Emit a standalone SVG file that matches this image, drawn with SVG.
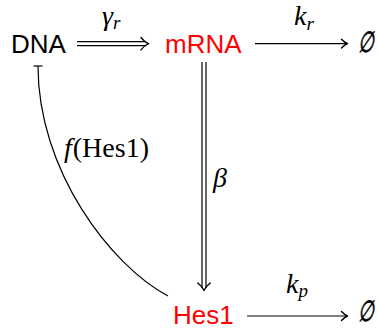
<svg xmlns="http://www.w3.org/2000/svg" width="378" height="328" viewBox="0 0 378 328">
<style>
.node{font-family:"Liberation Sans",Arial,sans-serif;font-size:26px;fill:#000}
.red{fill:#ff0000}
.math{font-family:"Liberation Serif","Times New Roman",serif;font-size:28px;fill:#000}
.it{font-style:italic}
.sub{font-size:19px;font-style:italic}
.edge{stroke:#000;stroke-width:1.2;fill:none}
.head{stroke:#000;stroke-width:1.4;fill:none;stroke-linecap:round;stroke-linejoin:round}
.empty{font-family:"DejaVu Sans",sans-serif;font-size:29px;fill:#000;stroke:#000;stroke-width:0.7}
</style>
<g id="connectors">
  <g id="e-dna-mrna">
    <line class="edge" x1="77" y1="41.7" x2="146" y2="41.7"/>
    <line class="edge" x1="77" y1="45.7" x2="146" y2="45.7"/>
    <path class="head" d="M141,37.5 Q144.5,42 148.5,43.7 Q144.5,45.4 141,49.9"/>
    <text class="math" x="102" y="25"><tspan class="it">γ</tspan><tspan class="sub" dy="4">r</tspan></text>
  </g>
  <g id="e-mrna-deg">
    <line class="edge" x1="255" y1="43.7" x2="347" y2="43.7"/>
    <path class="head" d="M341.5,39.3 Q344.5,42.5 347.5,43.7 Q344.5,44.9 341.5,48.1"/>
    <text class="math" x="294" y="25"><tspan class="it">k</tspan><tspan class="sub" dy="5">r</tspan></text>
  </g>
  <g id="e-mrna-hes1">
    <line class="edge" x1="202" y1="62" x2="202" y2="288"/>
    <line class="edge" x1="206" y1="62" x2="206" y2="288"/>
    <path class="head" d="M197.8,283 Q202.3,286.5 204,290.5 Q205.7,286.5 210.2,283"/>
    <text class="math it" x="213" y="187">β</text>
  </g>
  <g id="e-hes1-deg">
    <line class="edge" x1="247" y1="316" x2="347" y2="316"/>
    <path class="head" d="M341.5,311.6 Q344.5,314.8 347.5,316 Q344.5,317.2 341.5,320.4"/>
    <text class="math" x="286" y="293"><tspan class="it">k</tspan><tspan class="sub" dy="4">p</tspan></text>
  </g>
  <g id="e-hes1-dna">
    <path class="edge" d="M168,296 C110,265 38,170 38,66"/>
    <line class="edge" x1="33.5" y1="66" x2="42.5" y2="66"/>
    <text class="math" x="64" y="157"><tspan class="it">f</tspan><tspan dx="1">(Hes1)</tspan></text>
  </g>
</g>
<g id="node-dna"><text class="node" x="11" y="53">DNA</text></g>
<g id="node-mrna"><text class="node red" x="165" y="53">mRNA</text></g>
<g id="node-hes1"><text class="node red" x="173" y="323.5">Hes1</text></g>
<g id="node-empty1"><text class="empty" x="0" y="0" transform="translate(358 52) skewX(-10) scale(0.62 1)">∅</text></g>
<g id="node-empty2"><text class="empty" x="0" y="0" transform="translate(358 321) skewX(-10) scale(0.62 1)">∅</text></g>
</svg>
